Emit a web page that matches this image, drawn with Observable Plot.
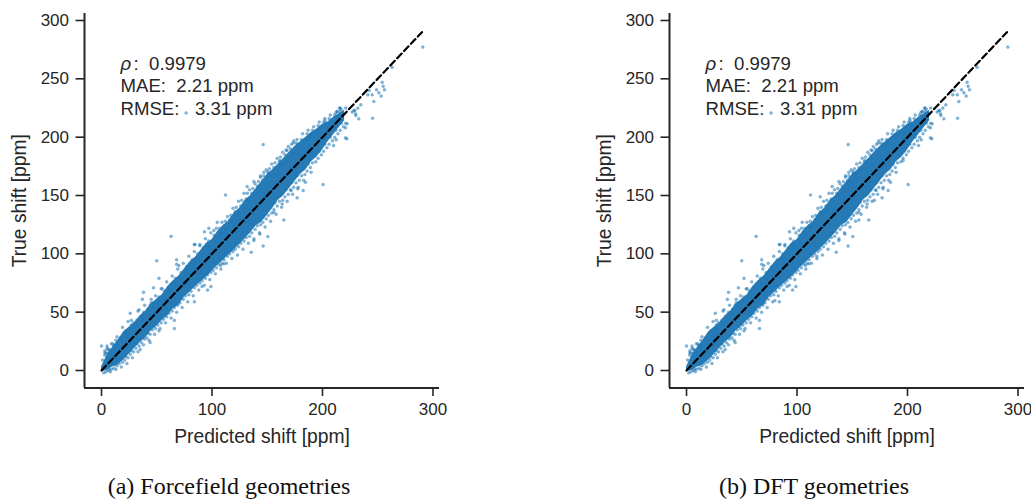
<!DOCTYPE html>
<html><head><meta charset="utf-8">
<script src="https://cdn.jsdelivr.net/npm/d3@7"></script>
<script src="https://cdn.jsdelivr.net/npm/@observablehq/plot@0.6"></script>
<style>
html,body{margin:0;padding:0;background:#fff;width:1031px;height:499px;overflow:hidden}
#wrap{position:relative;width:1031px;height:499px}
.p{position:absolute;top:0}
.cap{position:absolute;top:473px;font:24px "Liberation Serif",serif;color:#111;text-align:center;white-space:pre;width:400px}
</style></head><body><div id="wrap"></div>
<script>
const xTicks = [0, 100, 200, 300];
const yTicks = [0, 50, 100, 150, 200, 250, 300];
const predicted = [0,5,10,15,20,25,30,35,40,45,50,55,60,65,70,75,80,85,90,95,100,105,110,115,120,125,130,135,140,145,150,155,160,165,170,175,180,185,190,195,200,205,210,215,220];
const denseHi = [3,13,20,26,33,37,41,47,51,57,61,65,72,77,81,87,93,97,103,109,112,119,124,128,135,139,146,150,156,162,168,172,177,182,187,192,196,200,204,207,211,213,217,220,223];
const denseLo = [-1,0,3,5,9,14,19,24,28,34,38,43,47,53,56,63,67,72,76,80,85,90,94,99,103,108,113,118,124,127,133,139,146,150,156,162,168,172,179,183,189,196,202,208,214];
// individual points outside the dense band
const outliers = [[0,21],[5,21],[3,15],[6,18],[10,23],[13,26],[26,49],[33,51],[38,67],[37,61],[45,58],[50,94],[52,79],[63,115],[68,95],[68,91],[70,90],[55,70],[47,71],[66,43],[66,36],[84,59],[84,108],[89,108],[91,72],[96,69],[99,72],[52,34],[44,24],[35,18],
[76.6,220.8],[146.3,193.7],[112.2,150.5],[200.6,159.4],[173.5,195],[177.7,194],[189.7,202],[196.7,202.8],[215.7,225],[213.3,222],[214.8,218.5],[228.4,222.8],[229.9,220],[220.8,199.4],[212.4,197.7],[210,192.8],[189.7,170],[184.6,161.4],[182.5,154.3],[177.7,155.7],[171.6,154.3],[177,148],[165,129],[163.5,142.8],[156,135.7],[150.5,114.8],[143.3,117],[137.9,111.4],[146.3,106.8],[135.5,101.4],[110.7,91.4],[107.7,90],[84.5,108],[93.2,119],[97.1,122],[101.7,120],[104.7,127],[131.8,157.7],[137.9,161.9],[143.9,165.7],[146.9,170],[150.5,170.5],[161.4,180],[168,188.5],[172.6,182.8],
[290.8,277.2],[263,260],[254,247],[254.9,243.7],[256.1,240.6],[253.1,235.2],[251,238],[248.9,240.6],[245,236.3],[241,236.3],[242.2,240],[246.5,230.6],[245.3,216.3],[234.7,227.7],[232,224.9],[230.2,218.6],[232.9,215.7],[229.3,222.9],[226.9,221.5],[222,198.6],[215.7,224.9],[213.3,222],[202.4,214.3],[202.7,212],[214.2,217],[189.1,202.3],[186.1,199.5],[222.3,211.5],[220.8,208]];
const upperFringe = [[1,9],[3,13],[4,15],[6,15],[7,18],[8,17],[11,21],[12,22],[13,20],[16,26],[17,28],[18,25],[21,32],[22,34],[23,30],[26,36],[27,39],[28,35],[29,41],[31,40],[32,43],[33,39],[36,46],[37,44],[38,50],[41,50],[42,53],[43,48],[44,56],[46,56],[47,58],[48,54],[51,60],[52,63],[53,59],[56,64],[57,68],[58,62],[61,71],[62,69],[63,74],[66,76],[67,79],[68,74],[71,80],[72,84],[73,78],[76,86],[77,89],[78,84],[81,92],[82,95],[83,90],[86,96],[87,100],[88,94],[91,102],[92,105],[93,100],[96,108],[97,111],[98,106],[101,112],[102,116],[103,110],[106,119],[107,122],[108,117],[111,124],[112,128],[113,122],[116,129],[117,133],[118,127],[121,136],[122,140],[123,134],[126,141],[127,146],[128,139],[131,147],[132,152],[133,145],[136,152],[137,156],[138,150],[141,158],[142,162],[143,155],[146,163],[147,167],[148,161],[151,169],[152,173],[153,167],[156,174],[157,178],[158,172],[161,179],[162,183],[163,177],[166,185],[167,189],[168,182],[171,190],[172,194],[173,187],[176,195],[177,198],[178,192],[181,198],[182,203],[183,197],[186,203],[187,206],[188,200],[191,206],[192,209],[193,204],[196,210],[197,213],[198,208],[201,213],[202,216],[203,211],[206,216],[207,219],[208,214],[211,219],[212,221],[213,217],[216,222],[217,224],[218,220],[221,225]];
const lowerFringe = [[2,-2],[4,-1],[6,0],[7,1],[9,1],[11,2],[12,5],[14,4],[16,6],[17,9],[19,7],[21,9],[22,12],[24,11],[26,14],[27,17],[29,16],[31,19],[32,23],[34,21],[36,24],[37,28],[39,27],[41,28],[42,32],[44,31],[46,35],[47,38],[49,36],[51,39],[52,43],[54,41],[56,44],[57,48],[59,46],[61,49],[62,53],[64,51],[66,54],[67,58],[69,56],[71,58],[72,63],[74,61],[76,64],[77,68],[79,65],[81,68],[82,73],[84,71],[86,73],[87,77],[89,75],[91,77],[92,82],[94,79],[96,82],[97,87],[99,84],[101,86],[102,91],[104,88],[106,91],[107,96],[109,92],[111,95],[112,100],[114,98],[116,100],[117,105],[119,102],[121,104],[122,109],[124,106],[126,109],[127,114],[129,111],[131,114],[132,119],[134,115],[136,118],[137,124],[139,121],[141,124],[142,129],[144,125],[146,127],[147,133],[149,130],[151,133],[152,139],[154,135],[156,138],[157,144],[159,141],[161,145],[162,150],[164,146],[166,149],[167,155],[169,151],[171,155],[172,161],[174,157],[176,161],[177,167],[179,163],[181,167],[182,173],[184,168],[186,171],[187,177],[189,174],[191,178],[192,184],[194,179],[196,182],[197,188],[199,185],[201,188],[202,194],[204,191],[206,194],[207,200],[209,197],[211,200],[212,206],[214,203],[216,206],[217,212],[219,209],[221,212]];
const outerUpper = [[3,17],[5,19],[9,23],[14,29],[19,37],[24,42],[27,43],[34,52],[39,56],[45,61],[49,64],[54,70],[59,76],[64,81],[69,87],[74,92],[79,98],[84,102],[89,107],[94,113],[99,118],[104,122],[109,127],[114,132],[119,139],[124,145],[129,152],[134,155],[139,160],[144,167],[149,172],[154,177],[159,182],[164,187],[169,192],[174,197]];
const outerLower = [[8,-1],[13,1],[18,3],[23,6],[28,11],[33,16],[38,22],[43,26],[48,31],[53,36],[58,41],[63,45],[68,50],[73,54],[78,59],[83,64],[88,69],[93,73],[98,78],[103,83],[108,87],[113,92],[118,96],[123,99],[128,104],[133,109],[138,113],[143,118],[148,123],[153,128],[158,134],[163,140],[168,145],[173,151],[178,157],[183,163]];
const extraB = [[121,149],[80,60],[118,98],[156,129],[170,146],[196,180]];
const diagonal = [0, 290];
const X0 = 84, X1 = 439, Y0 = 387.5, Y1 = 13, H = 455;
const xDomain = [-15.4, 305.9], yDomain = [-15, 306];
const band = predicted.map((x,i)=>({x,hi:denseHi[i],lo:denseLo[i]}));
const INK = "#262626", BLUE = "#1f77b4";
function panel(pts, left){
  const svg = Plot.plot({
    width: 446, height: H,
    marginLeft: X0, marginRight: 446-X1, marginTop: Y1, marginBottom: H-Y0,
    style: {fontFamily:'"Liberation Sans",Arial,sans-serif', fontSize:"17px", color:INK, background:"transparent", overflow:"visible"},
    x: {domain:xDomain}, y: {domain:yDomain},
    marks: [
      Plot.dot(pts,{x:d=>d[0],y:d=>d[1],r:1.5,fill:BLUE,fillOpacity:0.55,stroke:BLUE,strokeOpacity:0.4,strokeWidth:0.5}),
      Plot.areaY(band,{x:"x",y1:"lo",y2:"hi",fill:BLUE,fillOpacity:0.97}),
      Plot.line(diagonal.map(v=>[v,v]),{x:d=>d[0],y:d=>d[1],stroke:"#000",strokeWidth:2.2,strokeDasharray:"6.5,3.5"}),
      Plot.ruleX([xDomain[0]],{stroke:INK,strokeWidth:2}),
      Plot.ruleY([yDomain[0]],{stroke:INK,strokeWidth:2}),
      Plot.axisX({ticks:xTicks,tickSize:8.5,tickPadding:6,strokeWidth:1.6,stroke:INK,fontSize:17,label:null,tickFormat:d=>d}),
      Plot.axisY({ticks:yTicks,tickSize:8.5,tickPadding:7,strokeWidth:1.6,stroke:INK,fontSize:17,label:null,tickFormat:d=>d}),
      Plot.text(["Predicted shift [ppm]"],{text:d=>d,frameAnchor:"bottom",lineAnchor:"middle",dy:49,fontSize:19.3,fill:INK}),
      Plot.text(["True shift [ppm]"],{text:d=>d,frameAnchor:"left",textAnchor:"middle",lineAnchor:"middle",rotate:-90,dx:-65,fontSize:19.3,fill:INK}),
      Plot.text(["ρ"],{x:17.2,y:263,text:d=>d,textAnchor:"start",fontSize:18.6,fontStyle:"italic",fill:INK}),
      Plot.text([":  0.9979"],{x:29,y:263,text:d=>d,textAnchor:"start",fontSize:18.6,fill:INK}),
      Plot.text(["MAE:  2.21 ppm"],{x:17.2,y:243.5,text:d=>d,textAnchor:"start",fontSize:18.6,fill:INK}),
      Plot.text(["RMSE:   3.31 ppm"],{x:17.2,y:224,text:d=>d,textAnchor:"start",fontSize:18.6,fill:INK})
    ]
  });
  svg.classList.add("p"); svg.style.left = left+"px";
  return svg;
}
const wrap = document.getElementById("wrap");
const all = outliers.concat(upperFringe, lowerFringe, outerUpper, outerLower);
wrap.append(panel(all,0), panel(all.concat(extraB),585));
for (const [t,c] of [["(a) Forcefield geometries",229],["(b) DFT geometries",814]]){
  const d=document.createElement("div");d.className="cap";d.textContent=t;d.style.left=(c-200)+"px";wrap.append(d);
}
</script></body></html>
